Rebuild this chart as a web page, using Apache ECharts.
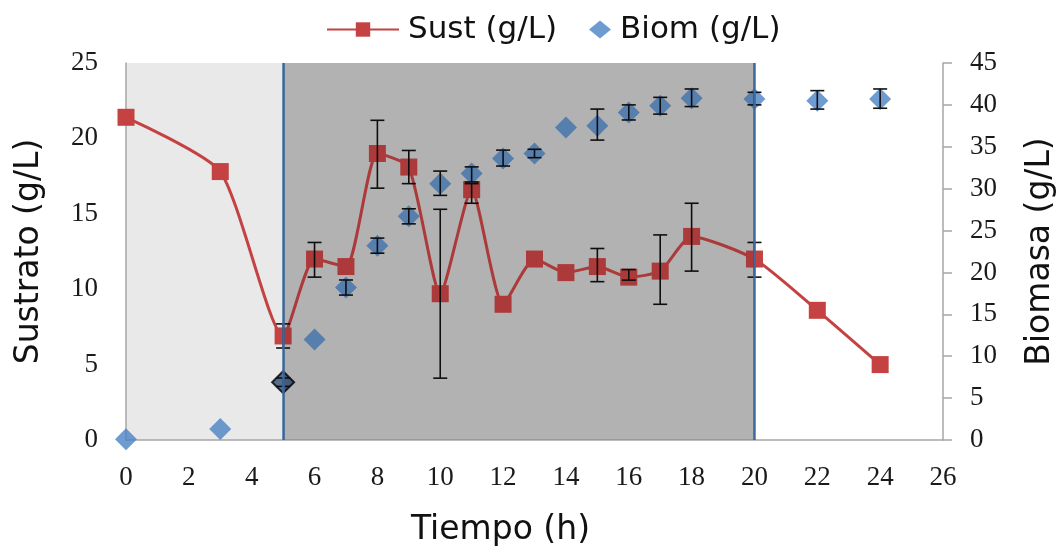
<!DOCTYPE html>
<html>
<head>
<meta charset="utf-8">
<script src="https://cdn.jsdelivr.net/npm/echarts@6/dist/echarts.min.js"></script>
<style>html,body{margin:0;padding:0;background:#fff}#c{width:1057px;height:548px}</style>
</head>
<body>
<div id="c"></div>
<script>
// ---- data ----
var tiempo = [0, 3, 5, 6, 7, 8, 9, 10, 11, 12, 13, 14, 15, 16, 17, 18, 20, 22, 24];
var sust   = [21.4, 17.8, 6.9, 12.0, 11.5, 19.0, 18.1, 9.7, 16.6, 9.0, 12.0, 11.1, 11.5, 10.8, 11.2, 13.5, 12.0, 8.6, 5.0];
var biom   = [0.1, 1.3, 6.9, 12.0, 18.2, 23.2, 26.7, 30.6, 31.8, 33.6, 34.2, 37.3, 37.5, 39.1, 39.9, 40.8, 40.7, 40.5, 40.7];
// error bars: [t, low, high]
var sustErr = [[5, 6.1, 7.7], [6, 10.8, 13.1], [8, 16.7, 21.2], [9, 17.0, 19.2], [10, 4.1, 15.3], [11, 15.7, 17.0],
               [15, 10.5, 12.7], [16, 10.6, 11.3], [17, 9.0, 13.6], [18, 11.2, 15.7], [20, 10.8, 13.1]];
var biomErr = [[5, 6.4, 7.4], [7, 17.3, 19.1], [8, 22.3, 24.1], [9, 25.8, 27.6], [10, 29.2, 32.1], [11, 30.8, 32.6],
               [12, 32.7, 34.6], [13, 33.7, 34.7], [15, 35.8, 39.5], [16, 38.2, 40.0], [17, 38.9, 40.9],
               [18, 39.8, 41.9], [20, 40.0, 41.5], [22, 39.5, 41.7], [24, 39.6, 41.9]];
// phase bands [start, end] and boundary lines
var bandLight = [[0, 5]];
var bandDark = [[5, 20]];
var phaseLines = [5, 20];
var xTicks = [0, 26, 2];
var ySustTicks = [0, 25, 5];
var yBiomTicks = [0, 45, 5];

var RED = '#c44242', BLUE = '#4a82c4';
var serif = '"Liberation Serif", "Times New Roman", serif';
var sans = '"DejaVu Sans", Verdana, sans-serif';

function pairs(xs, ys) { return xs.map(function (x, i) { return [x, ys[i]]; }); }

function bandRender(color) {
  return function (params, api) {
    var p0 = api.coord([api.value(0), ySustTicks[1]]);
    var p1 = api.coord([api.value(1), ySustTicks[0]]);
    return { type: 'rect', shape: { x: p0[0], y: p0[1], width: p1[0] - p0[0], height: p1[1] - p0[1] },
             style: { fill: color }, silent: true };
  };
}
function errRender(params, api) {
  var top = api.coord([api.value(0), api.value(2)]);
  var bot = api.coord([api.value(0), api.value(1)]);
  var w = 7;
  var st = { stroke: '#111', lineWidth: 1.6 };
  return { type: 'group', children: [
    { type: 'line', shape: { x1: top[0], y1: top[1], x2: bot[0], y2: bot[1] }, style: st },
    { type: 'line', shape: { x1: top[0] - w, y1: top[1], x2: top[0] + w, y2: top[1] }, style: st },
    { type: 'line', shape: { x1: bot[0] - w, y1: bot[1], x2: bot[0] + w, y2: bot[1] }, style: st }
  ]};
}

var biomData = pairs(tiempo, biom).map(function (d) {
  if (d[0] === 5) return { value: d, itemStyle: { color: '#2e4f78', borderColor: '#000', borderWidth: 2 } };
  return d;
});

var chart = echarts.init(document.getElementById('c'));
chart.setOption({
  animation: false,
  backgroundColor: '#fff',
  grid: { left: 126, right: 114, top: 63, bottom: 108, containLabel: false, outerBoundsMode: 'none' },
  legend: [
    { data: ['Sust (g/L)'], left: 321, top: 9, itemWidth: 72, itemHeight: 18,
      textStyle: { fontFamily: sans, fontSize: 31, color: '#111', padding: [0, 0, 0, 4] } },
    { data: ['Biom (g/L)'], left: 584, top: 9, itemWidth: 22, itemHeight: 18,
      textStyle: { fontFamily: sans, fontSize: 31, color: '#111', padding: [0, 0, 0, 4] } }
  ],
  xAxis: {
    type: 'value', min: xTicks[0], max: xTicks[1], interval: xTicks[2],
    name: 'Tiempo (h)', nameLocation: 'middle', nameGap: 74,
    nameTextStyle: { fontFamily: sans, fontSize: 33, color: '#111', padding: [0, 68, 0, 0] },
    axisLine: { lineStyle: { color: '#a6a6a6', width: 1.5 } },
    axisTick: { show: false }, splitLine: { show: false },
    axisLabel: { fontFamily: serif, fontSize: 27, color: '#1a1a1a', margin: 24 }
  },
  yAxis: [
    { type: 'value', min: ySustTicks[0], max: ySustTicks[1], interval: ySustTicks[2], position: 'left',
      name: 'Sustrato (g/L)', nameLocation: 'middle', nameGap: 80,
      nameTextStyle: { fontFamily: sans, fontSize: 33, color: '#111' },
      axisLine: { show: true, lineStyle: { color: '#a6a6a6', width: 1.5 } },
      axisTick: { show: false }, splitLine: { show: false },
      axisLabel: { fontFamily: serif, fontSize: 27, color: '#1a1a1a', margin: 28 } },
    { type: 'value', min: yBiomTicks[0], max: yBiomTicks[1], interval: yBiomTicks[2], position: 'right',
      name: 'Biomasa (g/L)', nameLocation: 'middle', nameGap: 81,
      nameTextStyle: { fontFamily: sans, fontSize: 33, color: '#111' },
      axisLine: { show: true, lineStyle: { color: '#a6a6a6', width: 1.5 } },
      axisTick: { show: true, length: 9, lineStyle: { color: '#a6a6a6', width: 1.5 } },
      splitLine: { show: false },
      axisLabel: { fontFamily: serif, fontSize: 27, color: '#1a1a1a', margin: 27 } }
  ],
  series: [
    { type: 'custom', name: 'bandLight', renderItem: bandRender('#e9e9e9'), data: bandLight, z: 0, silent: true,
      encode: { x: [0, 1] }, yAxisIndex: 0 },
    { type: 'custom', name: 'bandDark', renderItem: bandRender('#cbcbcb'), data: bandDark, z: 0, silent: true,
      encode: { x: [0, 1] }, yAxisIndex: 0 },
    { type: 'line', name: 'Sust (g/L)', data: pairs(tiempo, sust), yAxisIndex: 0, smooth: 0.2,
      symbol: 'rect', symbolSize: 17, z: 3,
      lineStyle: { color: RED, width: 3 }, itemStyle: { color: RED } },
    { type: 'scatter', name: 'Biom (g/L)', data: biomData, yAxisIndex: 1,
      symbol: 'diamond', symbolSize: [22, 22], z: 3, itemStyle: { color: BLUE } },
    { type: 'custom', name: 'errS', renderItem: errRender, data: sustErr, yAxisIndex: 0, z: 4, silent: true,
      encode: { x: 0, y: [1, 2] } },
    { type: 'custom', name: 'errB', renderItem: errRender, data: biomErr, yAxisIndex: 1, z: 4, silent: true,
      encode: { x: 0, y: [1, 2] } },
    { type: 'custom', name: 'overlay', renderItem: bandRender('rgba(0,0,0,0.12)'), data: bandDark, z: 6, silent: true,
      encode: { x: [0, 1] }, yAxisIndex: 0 },
    { type: 'line', name: 'phases', data: [], yAxisIndex: 0, z: 7, silent: true,
      markLine: { silent: true, symbol: 'none', label: { show: false },
        lineStyle: { color: '#4270a8', width: 2.5, type: 'solid' },
        data: phaseLines.map(function (v) { return { xAxis: v }; }) } }
  ]
});
</script>
</body>
</html>
